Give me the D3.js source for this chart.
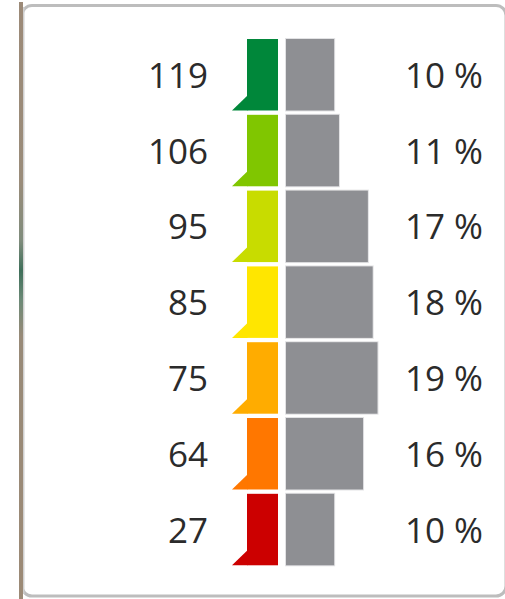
<!DOCTYPE html>
<html>
<head>
<meta charset="utf-8">
<script src="https://cdn.jsdelivr.net/npm/d3@7"></script>
<style>
  html, body { margin: 0; padding: 0; background: #ffffff; }
  svg { display: block; }
</style>
</head>
<body>
<svg id="chart" width="505" height="599"></svg>
<script>
// ---- data ----
const scoreLabels = ["119", "106", "95", "85", "75", "64", "27"];
const shareValues = [10, 11, 17, 18, 19, 16, 10];
const classColors = ["#00873a", "#80c600", "#c8dc00", "#ffe600", "#ffac00", "#ff7700", "#cc0000"];

// ---- layout ----
const W = 505, H = 599;
const svg = d3.select("#chart");

// frame
const defs = svg.append("defs");
const grad = defs.append("linearGradient").attr("id", "leftStrip")
  .attr("x1", 0).attr("y1", 0).attr("x2", 0).attr("y2", 1);
[[0, "#9c8a78"], [0.3, "#9a8c7a"], [0.4, "#7f8c7c"], [0.45, "#3f6f5a"], [0.5, "#6d8a77"], [0.56, "#988a78"], [1, "#9c8a76"]]
  .forEach(([o, c]) => grad.append("stop").attr("offset", o).attr("stop-color", c));

svg.append("rect").attr("x", 22).attr("y", 5.5).attr("width", 484).attr("height", 590.5)
  .attr("rx", 10).attr("fill", "#ffffff").attr("stroke", "#bdbdbd").attr("stroke-width", 3);
svg.append("rect").attr("x", 19).attr("y", 2).attr("width", 4).attr("height", H - 2)
  .attr("fill", "url(#leftStrip)");
svg.append("rect").attr("x", 23).attr("y", 7).attr("width", 1.5).attr("height", 587)
  .attr("fill", "#d0d0d0");

const y = d3.scaleBand()
  .domain(d3.range(scoreLabels.length))
  .range([36.85, 567.45])
  .paddingInner(0.057)
  .paddingOuter(0.0285);

const x = d3.scaleLinear().domain([0, 19]).range([286, 377.5]);

const colX0 = 247, colX1 = 278, triX0 = 232, triH = 15;

const rows = svg.append("g").selectAll("g")
  .data(scoreLabels.map((s, i) => ({ s, v: shareValues[i], c: classColors[i], i })))
  .join("g");

// colored class bars
rows.append("rect")
  .attr("x", colX0)
  .attr("y", d => y(d.i))
  .attr("width", colX1 - colX0)
  .attr("height", y.bandwidth())
  .attr("fill", d => d.c);

// little triangles at bottom-left
rows.append("path")
  .attr("d", d => {
    const b = y(d.i) + y.bandwidth();
    return `M${triX0},${b} L${colX0 + 0.5},${b} L${colX0 + 0.5},${b - triH} Z`;
  })
  .attr("fill", d => d.c);

// gray share bars
rows.append("rect")
  .attr("x", x(0) - 1)
  .attr("y", d => y(d.i) - 1)
  .attr("width", d => x(d.v) - x(0) + 2)
  .attr("height", y.bandwidth() + 2)
  .attr("fill", "#e2e2e4");
rows.append("rect")
  .attr("x", x(0))
  .attr("y", d => y(d.i))
  .attr("width", d => x(d.v) - x(0))
  .attr("height", y.bandwidth())
  .attr("fill", "#8e8f93");

// labels
rows.append("text")
  .attr("x", 208)
  .attr("y", d => y(d.i) + y.bandwidth() / 2 + 13)
  .attr("text-anchor", "end")
  .attr("font-family", "'Open Sans', sans-serif")
  .attr("font-size", 35)
  .attr("fill", "#2b2b2b")
  .text(d => d.s);

rows.append("text")
  .attr("x", 405)
  .attr("y", d => y(d.i) + y.bandwidth() / 2 + 13)
  .attr("text-anchor", "start")
  .attr("font-family", "'Open Sans', sans-serif")
  .attr("font-size", 35)
  .attr("fill", "#2b2b2b")
  .text(d => d.v + " %");
</script>
</body>
</html>
